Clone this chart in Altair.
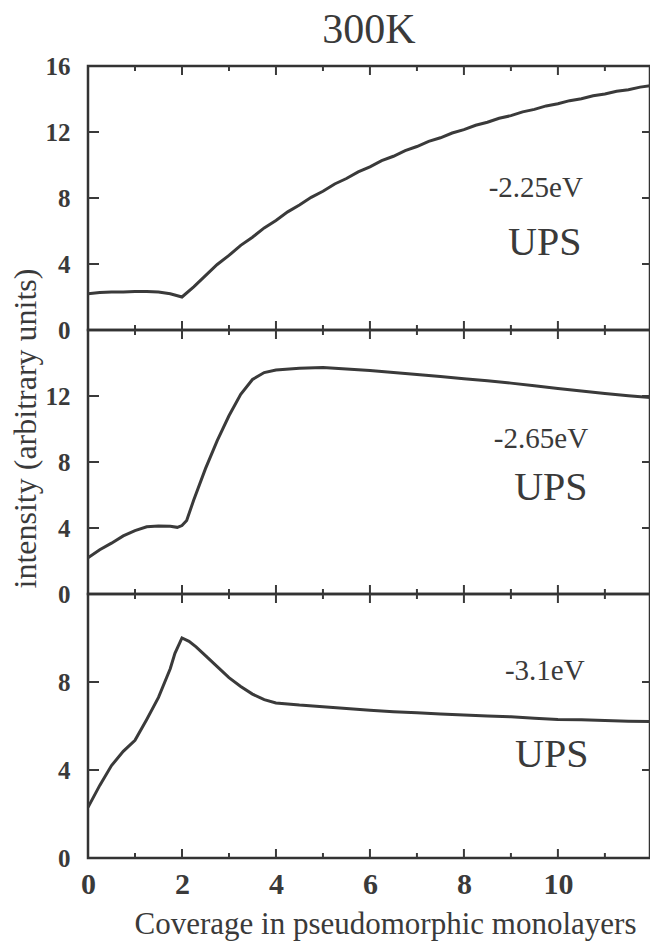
import altair as alt
import pandas as pd

FONT = "Liberation Serif"
INK = "#3a3a3a"

# ---- data ----
x_top = [0, 0.25, 0.5, 0.75, 1.0, 1.25, 1.5, 1.75, 2.0, 2.25, 2.5, 2.75, 3.0, 3.25, 3.5, 3.75,
         4.0, 4.25, 4.5, 4.75, 5.0, 5.25, 5.5, 5.75, 6.0, 6.25, 6.5, 6.75, 7.0, 7.25, 7.5, 7.75,
         8.0, 8.25, 8.5, 8.75, 9.0, 9.25, 9.5, 9.75, 10.0, 10.25, 10.5, 10.75, 11.0, 11.25, 11.5,
         11.75, 12.0]
y_top = [2.20, 2.27, 2.31, 2.30, 2.34, 2.33, 2.30, 2.20, 2.00, 2.62, 3.30, 3.97, 4.52, 5.13, 5.62,
         6.19, 6.64, 7.16, 7.57, 8.04, 8.41, 8.85, 9.18, 9.58, 9.89, 10.26, 10.53, 10.87, 11.12,
         11.43, 11.65, 11.94, 12.14, 12.41, 12.59, 12.83, 12.99, 13.22, 13.37, 13.58, 13.71, 13.90,
         14.02, 14.20, 14.30, 14.47, 14.56, 14.72, 14.82]

x_mid = [0, 0.25, 0.5, 0.75, 1.0, 1.25, 1.5, 1.75, 1.9, 2.0, 2.1, 2.25, 2.5, 2.75, 3.0, 3.25, 3.5,
         3.75, 4.0, 4.5, 5.0, 5.5, 6.0, 6.5, 7.0, 7.5, 8.0, 8.5, 9.0, 9.5, 10.0, 10.5, 11.0, 11.5, 12.0]
y_mid = [2.20, 2.68, 3.08, 3.52, 3.84, 4.07, 4.12, 4.10, 4.04, 4.15, 4.45, 5.70, 7.60, 9.30, 10.80,
         12.10, 13.00, 13.42, 13.58, 13.68, 13.72, 13.63, 13.55, 13.42, 13.30, 13.18, 13.05, 12.93,
         12.78, 12.62, 12.46, 12.30, 12.15, 12.02, 11.90]

x_bot = [0, 0.25, 0.5, 0.75, 1.0, 1.25, 1.5, 1.75, 1.85, 2.0, 2.15, 2.3, 2.5, 2.75, 3.0, 3.25, 3.5,
         3.75, 4.0, 4.5, 5.0, 5.5, 6.0, 6.5, 7.0, 7.5, 8.0, 8.5, 9.0, 9.5, 10.0, 10.5, 11.0, 11.5, 12.0]
y_bot = [2.30, 3.30, 4.20, 4.85, 5.35, 6.30, 7.30, 8.60, 9.30, 10.00, 9.85, 9.60, 9.20, 8.70, 8.20,
         7.80, 7.45, 7.20, 7.05, 6.95, 6.88, 6.80, 6.72, 6.65, 6.60, 6.55, 6.50, 6.45, 6.42, 6.35,
         6.30, 6.28, 6.25, 6.22, 6.20]

energy_labels = ["-2.25eV", "-2.65eV", "-3.1eV"]
energy_x = [9.53, 9.64, 9.72]
energy_y = [8.6, 9.4, 8.5]
ups_x = [9.72, 9.85, 9.87]
ups_y = [5.3, 6.4, 4.7]

x_major = [2, 4, 6, 8, 10]
x_minor = [1, 3, 5, 7, 9, 11]
x_labels = [0, 2, 4, 6, 8, 10]

W = 562
H = 264
XDOM = [0, 11.96]


def panel(xs, ys, ymax, yticks, ylabels, idx, xaxis=None, yaxis_title=None, title=None):
    xscale = alt.Scale(domain=XDOM, nice=False, zero=False)
    yscale = alt.Scale(domain=[0, ymax], nice=False, zero=False)
    df = pd.DataFrame({"x": xs, "y": ys})
    yaxis_kwargs = dict(values=ylabels, labelFont=FONT, labelFontSize=25, labelFontWeight="bold",
                        labelColor=INK, labelPadding=18, tickSize=0, domain=False, grid=False,
                        labelFlush=False, labelOverlap=False)
    if yaxis_title:
        yaxis = alt.Axis(title=yaxis_title, titleFont=FONT, titleFontSize=32,
                         titleFontWeight="normal", titleColor=INK, titleX=-53, titleY=98,
                         titleAngle=270, titleBaseline="alphabetic", titleAlign="center",
                         **yaxis_kwargs)
    else:
        yaxis = alt.Axis(title=None, **yaxis_kwargs)

    X = lambda: alt.X("x:Q", scale=xscale, axis=xaxis)
    Y = lambda: alt.Y("y:Q", scale=yscale, axis=yaxis)

    line = alt.Chart(df).mark_line(color=INK, strokeWidth=3, clip=True).encode(x=X(), y=Y())

    def xt(vals, y0, y1):
        return alt.Chart(pd.DataFrame({"x": vals})).mark_rule(color=INK, strokeWidth=2).encode(
            x=X(), y=alt.value(y0), y2=alt.value(y1))

    def yt(vals, x0, x1):
        return alt.Chart(pd.DataFrame({"y": vals})).mark_rule(color=INK, strokeWidth=2).encode(
            y=Y(), x=alt.value(x0), x2=alt.value(x1))

    ticks = [
        xt(x_major, H, H - 9), xt(x_minor, H, H - 5),
        xt(x_major, 0, 9), xt(x_minor, 0, 5),
        yt(yticks, 0, 11), yt(yticks, W, W - 8),
    ]

    ev = alt.Chart(pd.DataFrame({"x": [energy_x[idx]], "y": [energy_y[idx]],
                                 "t": [energy_labels[idx]]})).mark_text(
        font=FONT, fontSize=29, color=INK, align="center", baseline="middle").encode(
        x=X(), y=Y(), text="t:N")
    ups = alt.Chart(pd.DataFrame({"x": [ups_x[idx]], "y": [ups_y[idx]], "t": ["UPS"]})).mark_text(
        font=FONT, fontSize=40, color=INK, align="center", baseline="middle").encode(
        x=X(), y=Y(), text="t:N")

    props = dict(width=W, height=H)
    if title is not None:
        props["title"] = title
    return alt.layer(line, *ticks, ev, ups).properties(**props)


bottom_xaxis = alt.Axis(values=x_labels, labelFont=FONT, labelFontSize=30, labelFontWeight="bold",
                        labelColor=INK, labelPadding=11, tickSize=0, domain=False, grid=False,
                        labelFlush=False, title="Coverage in pseudomorphic monolayers",
                        titleFont=FONT, titleFontSize=31, titleFontWeight="normal",
                        titleColor=INK, titleX=297, titleY=75, titleBaseline="alphabetic",
                        titleAlign="center")

top_title = alt.TitleParams("300K", font=FONT, fontSize=42, fontWeight="normal", color=INK,
                            baseline="alphabetic", offset=-31, anchor="middle")

p1 = panel(x_top, y_top, 16, [4, 8, 12], [0, 4, 8, 12, 16], 0, title=top_title)
p2 = panel(x_mid, y_mid, 16, [4, 8, 12], [0, 4, 8, 12], 1,
           yaxis_title="intensity (arbitrary units)")
p3 = panel(x_bot, y_bot, 12, [4, 8], [0, 4, 8], 2, xaxis=bottom_xaxis)

chart = alt.vconcat(p1, p2, p3, spacing=0, bounds="flush").properties(
    padding={"left": 7, "top": 7, "right": -3, "bottom": 4},
    background="white",
).configure_view(stroke="#333333", strokeWidth=2.5)

chart.save("out.html", embed_options={"renderer": "svg", "actions": False})
